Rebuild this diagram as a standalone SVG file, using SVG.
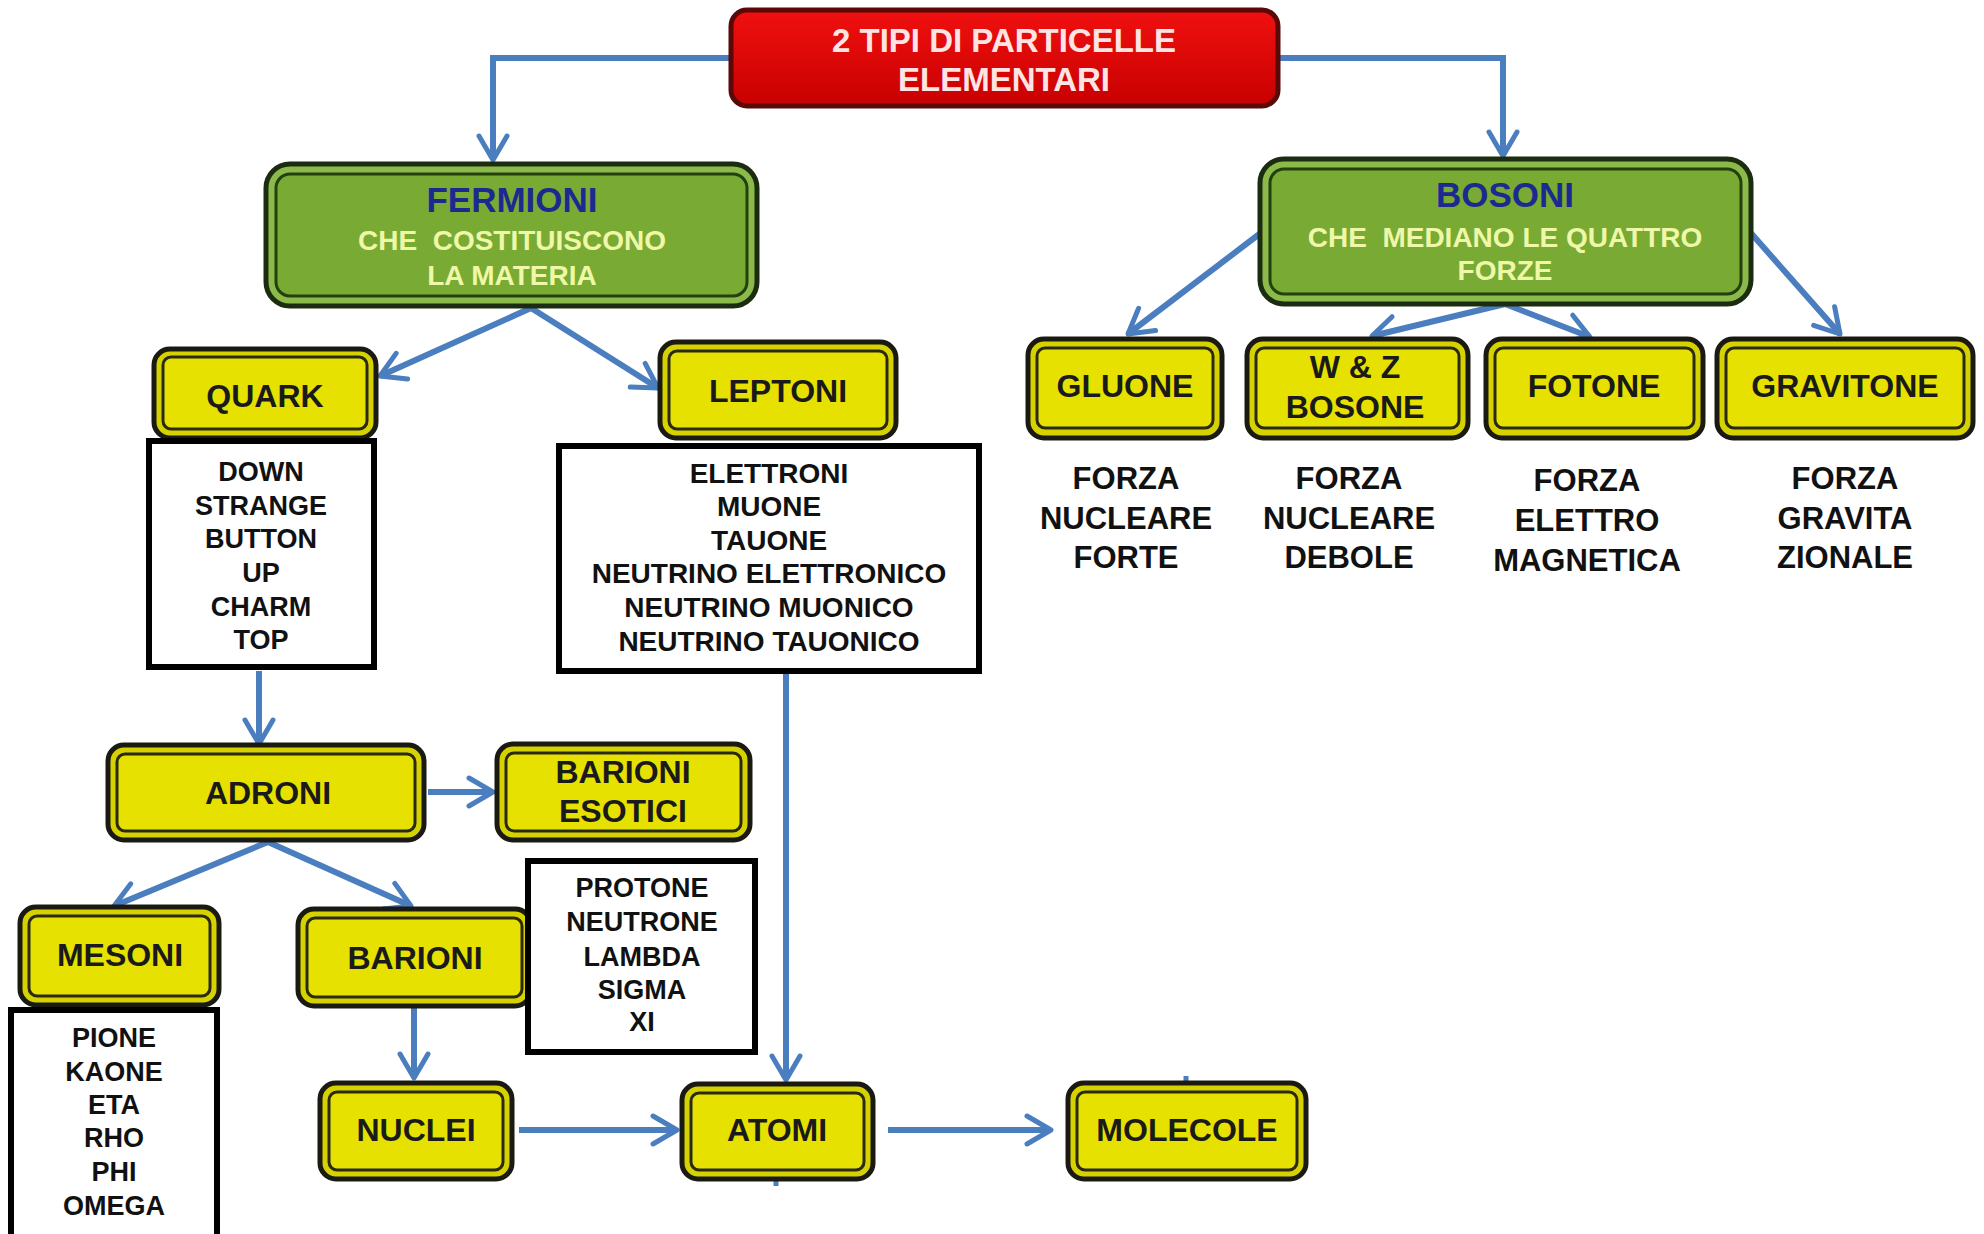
<svg xmlns="http://www.w3.org/2000/svg" width="1984" height="1234" viewBox="0 0 1984 1234">
<defs>
<marker id="ah" markerUnits="userSpaceOnUse" markerWidth="34" markerHeight="34" viewBox="0 0 34 34" refX="30" refY="17" orient="auto">
<path d="M6,3 L30,17 L6,31" fill="none" stroke="#4a7ebf" stroke-width="5" stroke-linecap="round" stroke-linejoin="round"/>
</marker>
<linearGradient id="red" x1="0" y1="0" x2="0" y2="1">
<stop offset="0" stop-color="#f01010"/><stop offset="1" stop-color="#c80000"/>
</linearGradient>
</defs>
<style>
text{font-family:"Liberation Sans",Arial,sans-serif;text-anchor:middle;dominant-baseline:central}
.yo{fill:#d6d200;stroke:#1a1a12;stroke-width:5}
.yi{fill:#e6e100;stroke:#2a2a10;stroke-width:3}
.go{fill:#8cba4a;stroke:#1c2c10;stroke-width:5}
.gi{fill:#79aa33;stroke:#23400f;stroke-width:3}
.lst{fill:#fff;stroke:#000;stroke-width:6}
.lbl{font-size:32px;font-weight:bold;fill:#1a1a1a}
.li{font-size:27px;font-weight:bold;fill:#111}
.li2{font-size:28px;font-weight:bold;fill:#111}
.frc{font-size:31px;font-weight:bold;fill:#111}
.hd{font-size:35px;font-weight:bold;fill:#1c2a90}
.sub{font-size:28px;font-weight:bold;fill:#eef8a8}
.con{fill:none;stroke:#4a7ebf;stroke-width:6;marker-end:url(#ah)}
.stub{fill:none;stroke:#4a7ebf;stroke-width:5}
</style>
<rect width="1984" height="1234" fill="#fff"/>

<g id="connectors">
<path class="con" d="M731,58 H493 V160"/>
<path class="con" d="M1278,58 H1503 V156"/>
<path class="con" d="M531,308 L380,376"/>
<path class="con" d="M531,308 L658,388"/>
<path class="con" d="M1262,232 L1128,334"/>
<path class="con" d="M1505,304 L1372,336"/>
<path class="con" d="M1505,304 L1590,337"/>
<path class="con" d="M1750,232 L1840,334"/>
<path class="con" d="M259,671 V744"/>
<path class="con" d="M428,792 H493"/>
<path class="con" d="M268,842 L114,906"/>
<path class="con" d="M268,842 L411,906"/>
<path class="con" d="M414,1008 V1078"/>
<path class="con" d="M519,1130 H677"/>
<path class="con" d="M786,671 V1080"/>
<path class="con" d="M888,1130 H1051"/>
<path class="stub" d="M776,1179 V1186"/>
<path class="stub" d="M1186,1076 V1083"/>
</g>

<g id="title">
<rect x="731" y="10" width="547" height="96" rx="16" fill="url(#red)" stroke="#5a0808" stroke-width="5"/>
<text x="1004" y="40" style="font-size:33px;font-weight:bold;fill:#ffe4e4">2 TIPI DI PARTICELLE</text>
<text x="1004" y="79" style="font-size:33px;font-weight:bold;fill:#ffe4e4">ELEMENTARI</text>
</g>

<g id="fermioni">
<rect class="go" x="266" y="164" width="491" height="142" rx="24"/>
<rect class="gi" x="276" y="174" width="471" height="122" rx="14"/>
<text class="hd" x="512" y="199">FERMIONI</text>
<text class="sub" x="512" y="240">CHE&#160; COSTITUISCONO</text>
<text class="sub" x="512" y="275">LA MATERIA</text>
</g>

<g id="bosoni">
<rect class="go" x="1260" y="159" width="491" height="145" rx="24"/>
<rect class="gi" x="1270" y="169" width="471" height="125" rx="14"/>
<text class="hd" x="1505" y="194">BOSONI</text>
<text class="sub" x="1505" y="237">CHE&#160; MEDIANO LE QUATTRO</text>
<text class="sub" x="1505" y="270">FORZE</text>
</g>

<g id="quark">
<rect class="yo" x="154" y="349" width="222" height="89" rx="16"/>
<rect class="yi" x="163" y="357" width="204" height="72" rx="8"/>
<text class="lbl" x="265" y="396">QUARK</text>
</g>

<g id="quark-list">
<rect class="lst" x="149" y="441" width="225" height="226"/>
<text class="li" x="261" y="472">DOWN</text>
<text class="li" x="261" y="506">STRANGE</text>
<text class="li" x="261" y="539">BUTTON</text>
<text class="li" x="261" y="573">UP</text>
<text class="li" x="261" y="607">CHARM</text>
<text class="li" x="261" y="640">TOP</text>
</g>

<g id="leptoni">
<rect class="yo" x="660" y="342" width="236" height="96" rx="16"/>
<rect class="yi" x="669" y="351" width="218" height="78" rx="8"/>
<text class="lbl" x="778" y="391">LEPTONI</text>
</g>

<g id="leptoni-list">
<rect class="lst" x="559" y="446" width="420" height="225"/>
<text class="li2" x="769" y="473">ELETTRONI</text>
<text class="li2" x="769" y="506">MUONE</text>
<text class="li2" x="769" y="540">TAUONE</text>
<text class="li2" x="769" y="573">NEUTRINO ELETTRONICO</text>
<text class="li2" x="769" y="607">NEUTRINO MUONICO</text>
<text class="li2" x="769" y="641">NEUTRINO TAUONICO</text>
</g>

<g id="gluone">
<rect class="yo" x="1028" y="339" width="194" height="99" rx="16"/>
<rect class="yi" x="1037" y="348" width="176" height="80" rx="8"/>
<text class="lbl" x="1125" y="386">GLUONE</text>
</g>

<g id="wz">
<rect class="yo" x="1247" y="339" width="221" height="99" rx="16"/>
<rect class="yi" x="1256" y="348" width="203" height="80" rx="8"/>
<text class="lbl" x="1355" y="367">W &amp; Z</text>
<text class="lbl" x="1355" y="407">BOSONE</text>
</g>

<g id="fotone">
<rect class="yo" x="1486" y="339" width="217" height="99" rx="16"/>
<rect class="yi" x="1495" y="348" width="199" height="80" rx="8"/>
<text class="lbl" x="1594" y="386">FOTONE</text>
</g>

<g id="gravitone">
<rect class="yo" x="1717" y="339" width="256" height="99" rx="16"/>
<rect class="yi" x="1726" y="348" width="238" height="80" rx="8"/>
<text class="lbl" x="1845" y="386">GRAVITONE</text>
</g>

<g id="forze">
<text class="frc" x="1126" y="478">FORZA</text>
<text class="frc" x="1126" y="518">NUCLEARE</text>
<text class="frc" x="1126" y="557">FORTE</text>
<text class="frc" x="1349" y="478">FORZA</text>
<text class="frc" x="1349" y="518">NUCLEARE</text>
<text class="frc" x="1349" y="557">DEBOLE</text>
<text class="frc" x="1587" y="480">FORZA</text>
<text class="frc" x="1587" y="520">ELETTRO</text>
<text class="frc" x="1587" y="560">MAGNETICA</text>
<text class="frc" x="1845" y="478">FORZA</text>
<text class="frc" x="1845" y="518">GRAVITA</text>
<text class="frc" x="1845" y="557">ZIONALE</text>
</g>

<g id="adroni">
<rect class="yo" x="108" y="745" width="316" height="95" rx="16"/>
<rect class="yi" x="117" y="754" width="298" height="77" rx="8"/>
<text class="lbl" x="268" y="793">ADRONI</text>
</g>

<g id="barioni-esotici">
<rect class="yo" x="497" y="744" width="253" height="96" rx="16"/>
<rect class="yi" x="506" y="753" width="235" height="78" rx="8"/>
<text class="lbl" x="623" y="772">BARIONI</text>
<text class="lbl" x="623" y="811">ESOTICI</text>
</g>

<g id="mesoni">
<rect class="yo" x="20" y="907" width="199" height="98" rx="16"/>
<rect class="yi" x="29" y="916" width="181" height="80" rx="8"/>
<text class="lbl" x="120" y="955">MESONI</text>
</g>

<g id="mesoni-list">
<rect class="lst" x="11" y="1010" width="206" height="230"/>
<text class="li" x="114" y="1038">PIONE</text>
<text class="li" x="114" y="1072">KAONE</text>
<text class="li" x="114" y="1105">ETA</text>
<text class="li" x="114" y="1138">RHO</text>
<text class="li" x="114" y="1172">PHI</text>
<text class="li" x="114" y="1206">OMEGA</text>
</g>

<g id="barioni">
<rect class="yo" x="298" y="909" width="233" height="97" rx="16"/>
<rect class="yi" x="307" y="918" width="215" height="79" rx="8"/>
<text class="lbl" x="415" y="958">BARIONI</text>
</g>

<g id="barioni-list">
<rect class="lst" x="528" y="861" width="227" height="191"/>
<text class="li" x="642" y="888">PROTONE</text>
<text class="li" x="642" y="922">NEUTRONE</text>
<text class="li" x="642" y="957">LAMBDA</text>
<text class="li" x="642" y="990">SIGMA</text>
<text class="li" x="642" y="1022">XI</text>
</g>

<g id="nuclei">
<rect class="yo" x="320" y="1083" width="192" height="96" rx="16"/>
<rect class="yi" x="329" y="1092" width="174" height="78" rx="8"/>
<text class="lbl" x="416" y="1130">NUCLEI</text>
</g>

<g id="atomi">
<rect class="yo" x="682" y="1084" width="191" height="95" rx="16"/>
<rect class="yi" x="691" y="1093" width="173" height="77" rx="8"/>
<text class="lbl" x="777" y="1130">ATOMI</text>
</g>

<g id="molecole">
<rect class="yo" x="1068" y="1083" width="238" height="96" rx="16"/>
<rect class="yi" x="1077" y="1092" width="220" height="78" rx="8"/>
<text class="lbl" x="1187" y="1130">MOLECOLE</text>
</g>
</svg>
